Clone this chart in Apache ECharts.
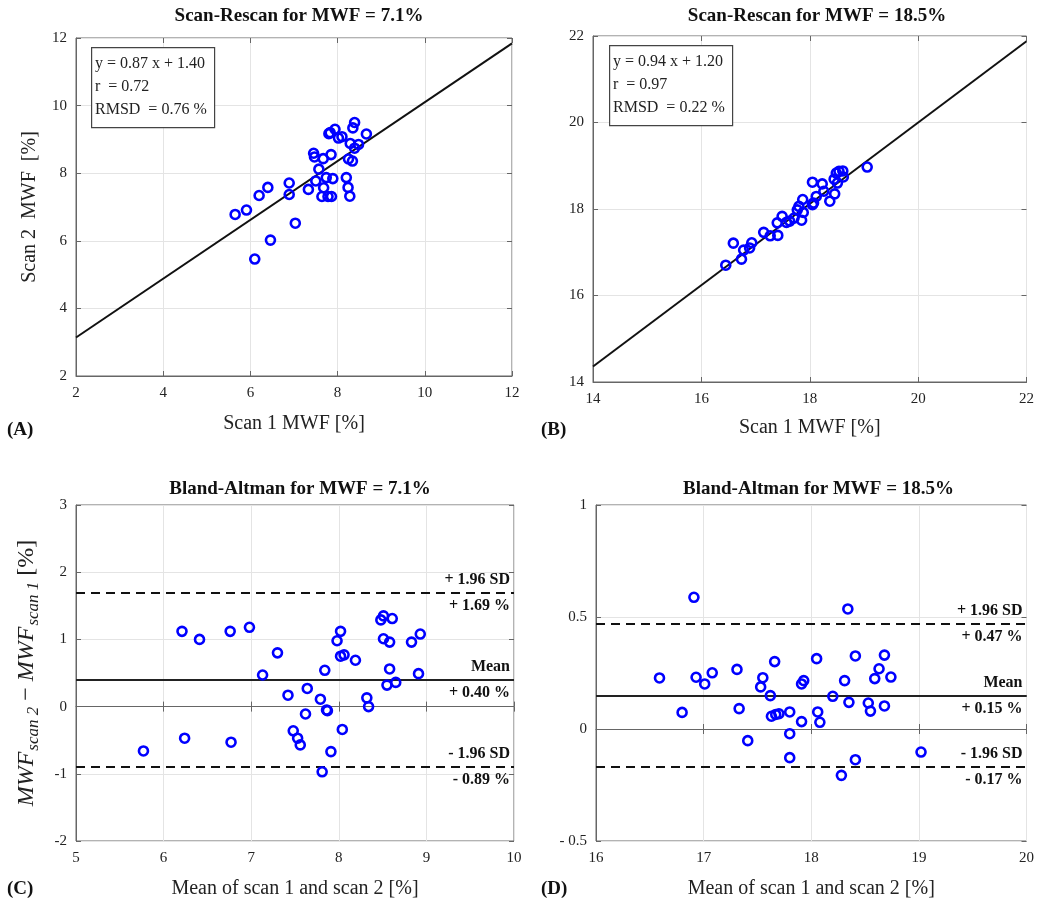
<!DOCTYPE html>
<html>
<head>
<meta charset="utf-8">
<script src="https://cdn.jsdelivr.net/npm/echarts@6/dist/echarts.min.js"></script>
<style>
  html, body { margin: 0; padding: 0; background: #fff; }
  #chart { width: 1037px; height: 903px; }
</style>
</head>
<body>
<div id="chart"></div>
<script>
(function () {
  // (A) scan-rescan, MWF = 7.1%
  const scan1Low = [5.65, 5.91, 6.10, 6.20, 6.40, 6.46, 6.89, 6.89, 7.03, 7.33, 7.45, 7.47, 7.50, 7.57, 7.67, 7.68, 7.64, 7.74, 7.78, 7.86, 7.80, 7.83, 7.85, 7.89, 7.94, 8.02, 8.10, 8.20, 8.24, 8.28, 8.25, 8.34, 8.29, 8.35, 8.39, 8.39, 8.48, 8.66];
  const scan2Low = [6.78, 6.91, 5.46, 7.34, 7.58, 6.02, 7.71, 7.37, 6.52, 7.52, 8.59, 8.48, 7.77, 8.12, 8.43, 7.57, 7.31, 7.87, 7.31, 7.31, 9.17, 9.20, 8.55, 7.84, 9.30, 9.04, 9.08, 7.87, 7.58, 7.32, 8.42, 8.36, 8.88, 9.34, 9.50, 8.74, 8.85, 9.16];
  const fitLow = { slope: 0.87, intercept: 1.40 };

  // (B) scan-rescan, MWF = 18.5%
  const scan1High = [16.45, 16.59, 16.74, 16.78, 16.89, 16.93, 17.15, 17.27, 17.41, 17.40, 17.49, 17.57, 17.63, 17.71, 17.77, 17.80, 17.85, 17.88, 17.87, 18.05, 18.07, 18.05, 18.12, 18.23, 18.26, 18.37, 18.46, 18.45, 18.49, 18.51, 18.54, 18.61, 18.62, 19.06];
  const scan2High = [16.70, 17.21, 16.84, 17.05, 17.10, 17.22, 17.46, 17.38, 17.39, 17.68, 17.83, 17.69, 17.72, 17.79, 17.98, 18.06, 17.74, 17.92, 18.22, 18.10, 18.14, 18.62, 18.29, 18.58, 18.41, 18.18, 18.35, 18.69, 18.83, 18.60, 18.87, 18.88, 18.74, 18.97];
  const fitHigh = { slope: 0.94, intercept: 1.20 };

  // (C) Bland-Altman, MWF = 7.1%
  const meanLow = [5.77, 6.21, 6.24, 6.41, 6.76, 6.77, 6.98, 7.13, 7.30, 7.42, 7.48, 7.53, 7.56, 7.62, 7.64, 7.79, 7.81, 7.84, 7.86, 7.87, 7.91, 7.98, 8.02, 8.02, 8.06, 8.04, 8.19, 8.32, 8.34, 8.48, 8.51, 8.61, 8.51, 8.58, 8.58, 8.55, 8.65, 8.83, 8.93, 8.91];
  const diffLow = [-0.66, 1.12, -0.47, 1.00, 1.12, -0.53, 1.18, 0.47, 0.80, 0.17, -0.36, -0.47, -0.57, -0.11, 0.27, 0.11, -0.97, 0.54, -0.05, -0.06, -0.67, 0.98, 1.12, 0.75, 0.77, -0.34, 0.69, 0.13, 0.00, 1.29, 1.35, 1.31, 1.01, 0.96, 0.56, 0.32, 0.36, 0.96, 1.08, 0.49];
  const limitsLow = { upper: 1.69, mean: 0.40, lower: -0.89 };

  // (D) Bland-Altman, MWF = 18.5%
  const meanHigh = [16.59, 16.80, 16.91, 16.93, 17.01, 17.08, 17.31, 17.33, 17.41, 17.53, 17.55, 17.62, 17.63, 17.66, 17.67, 17.70, 17.80, 17.80, 17.80, 17.91, 17.93, 17.91, 18.05, 18.06, 18.08, 18.20, 18.28, 18.31, 18.34, 18.35, 18.41, 18.41, 18.53, 18.55, 18.59, 18.63, 18.68, 18.68, 18.74, 19.02];
  const diffHigh = [0.228, 0.074, 0.588, 0.231, 0.201, 0.251, 0.266, 0.091, -0.052, 0.188, 0.229, 0.149, 0.057, 0.301, 0.065, 0.068, 0.076, -0.021, -0.128, 0.201, 0.216, 0.033, 0.314, 0.076, 0.030, 0.146, -0.207, 0.216, 0.536, 0.119, 0.326, -0.137, 0.116, 0.080, 0.225, 0.269, 0.103, 0.330, 0.232, -0.103];
  const limitsHigh = { upper: 0.47, mean: 0.15, lower: -0.17 };

  const panels = [
    { title: 'Scan-Rescan for MWF = 7.1%', titleTop: 2, x: [2, 12, 2], y: [2, 12, 2], grid: { left: 76, top: 38, width: 436, height: 338 } },
    { title: 'Scan-Rescan for MWF = 18.5%', titleTop: 2, x: [14, 22, 2], y: [14, 22, 2], grid: { left: 593, top: 36, width: 438, height: 346 } },
    { title: 'Bland-Altman for MWF = 7.1%', titleTop: 475, x: [5, 10, 1], y: [-2, 3, 1], grid: { left: 76, top: 505, width: 438, height: 336 } },
    { title: 'Bland-Altman for MWF = 18.5%', titleTop: 475, x: [16, 20, 1], y: [-0.5, 1, 0.5], grid: { left: 596, top: 505, width: 435, height: 336 } },
  ];

  const FONT = '"Liberation Serif", "DejaVu Serif", serif';
  const BOX = '#666';
  const chart = echarts.init(document.getElementById('chart'), null, { renderer: 'canvas' });

  const pairs = (xs, ys) => xs.map((x, i) => [x, ys[i]]);
  const negLabel = (v) => (v < 0 ? '- ' + Math.abs(v) : String(v));
  const two = (v) => v.toFixed(2);

  const grids = [];
  const xAxes = [];
  const yAxes = [];
  const titles = [];

  panels.forEach((p, i) => {
    grids.push(Object.assign({ show: true, borderColor: BOX, borderWidth: 1, backgroundColor: '#fff' }, p.grid));
    titles.push({
      text: p.title,
      left: p.grid.left + p.grid.width / 2,
      top: p.titleTop,
      textAlign: 'center',
      textStyle: { fontFamily: FONT, fontWeight: 'bold', fontSize: 19, color: '#111' },
    });

    const base = (range) => ({
      type: 'value',
      gridIndex: i,
      min: range[0],
      max: range[1],
      interval: range[2],
    });

    xAxes.push(Object.assign(base(p.x), {
      position: 'bottom',
      axisLine: { show: true, lineStyle: { color: BOX } },
      axisTick: { show: true, inside: true, length: 5, lineStyle: { color: BOX } },
      axisLabel: { fontFamily: FONT, fontSize: 15, color: '#222', margin: 10 },
      splitLine: { show: true, lineStyle: { color: '#e4e4e4' } },
      name: i < 2 ? 'Scan 1 MWF [%]' : 'Mean of scan 1 and scan 2 [%]',
      nameLocation: 'middle',
      nameGap: i === 1 ? 36 : 38,
      nameTextStyle: { fontFamily: FONT, fontSize: 20, color: '#222' },
    }));
    xAxes.push(Object.assign(base(p.x), {
      position: 'top',
      axisLine: { show: false },
      axisTick: { show: true, inside: true, length: 5, lineStyle: { color: BOX } },
      axisLabel: { show: false },
      splitLine: { show: false },
    }));

    const yMain = Object.assign(base(p.y), {
      position: 'left',
      axisLine: { show: true, lineStyle: { color: BOX } },
      axisTick: { show: true, inside: true, length: 5, lineStyle: { color: BOX } },
      axisLabel: { fontFamily: FONT, fontSize: 15, color: '#222', margin: 9, formatter: i === 3 ? negLabel : null },
      splitLine: { show: true, lineStyle: { color: '#e4e4e4' } },
    });
    if (i === 0) {
      Object.assign(yMain, {
        name: 'Scan 2  MWF  [%]',
        nameLocation: 'middle',
        nameGap: 36,
        nameTextStyle: { fontFamily: FONT, fontSize: 20, color: '#222' },
      });
    } else if (i === 2) {
      Object.assign(yMain, {
        name: '{i|MWF}{s|scan 2}{n| − }{i|MWF}{s|scan 1}{n| [%]}',
        nameLocation: 'middle',
        nameGap: 34,
        nameTextStyle: {
          fontFamily: FONT,
          color: '#222',
          rich: {
            i: { fontFamily: FONT, fontStyle: 'italic', fontSize: 24, color: '#222', lineHeight: 30, verticalAlign: 'middle' },
            s: { fontFamily: FONT, fontStyle: 'italic', fontSize: 17, color: '#222', lineHeight: 30, verticalAlign: 'bottom', padding: [0, 0, 0, 1] },
            n: { fontFamily: FONT, fontSize: 24, color: '#222', lineHeight: 30, verticalAlign: 'middle' },
          },
        },
      });
    }
    yAxes.push(yMain);
    yAxes.push(Object.assign(base(p.y), {
      position: 'right',
      axisLine: { show: false },
      axisTick: { show: true, inside: true, length: 5, lineStyle: { color: BOX } },
      axisLabel: { show: false },
      splitLine: { show: false },
    }));
  });

  const scatterStyle = {
    type: 'scatter',
    symbol: 'circle',
    symbolSize: 9,
    itemStyle: { color: 'rgba(0,0,0,0)', borderColor: '#0000ff', borderWidth: 2.6, opacity: 1 },
    silent: true,
    z: 5,
  };

  function fitSeries(i, fit, range) {
    return {
      type: 'line',
      xAxisIndex: i * 2,
      yAxisIndex: i * 2,
      data: [range[0], range[1]].map((x) => [x, fit.slope * x + fit.intercept]),
      showSymbol: false,
      lineStyle: { color: '#111', width: 2 },
      silent: true,
      z: 3,
    };
  }

  const lblTop = { fontFamily: FONT, fontWeight: 'bold', fontSize: 16, color: '#111', position: 'insideEndTop', distance: [4, 5] };
  const lblBot = Object.assign({}, lblTop, { position: 'insideEndBottom' });

  function limitLines(limits) {
    const dashed = { color: '#111', width: 2, type: [9, 6] };
    const solid = { color: '#222', width: 2, type: 'solid' };
    return {
      symbol: 'none',
      silent: true,
      animation: false,
      data: [
        { yAxis: limits.upper, lineStyle: dashed, label: Object.assign({ formatter: '+ 1.96 SD' }, lblTop) },
        { yAxis: limits.upper, lineStyle: dashed, label: Object.assign({ formatter: '+ ' + two(limits.upper) + ' %' }, lblBot) },
        { yAxis: limits.mean, lineStyle: solid, label: Object.assign({ formatter: 'Mean' }, lblTop) },
        { yAxis: limits.mean, lineStyle: solid, label: Object.assign({ formatter: '+ ' + two(limits.mean) + ' %' }, lblBot) },
        { yAxis: limits.lower, lineStyle: dashed, label: Object.assign({ formatter: '- 1.96 SD' }, lblTop) },
        { yAxis: limits.lower, lineStyle: dashed, label: Object.assign({ formatter: '- ' + two(Math.abs(limits.lower)) + ' %' }, lblBot) },
      ],
    };
  }

  const series = [
    fitSeries(0, fitLow, panels[0].x),
    Object.assign({}, scatterStyle, { xAxisIndex: 0, yAxisIndex: 0, data: pairs(scan1Low, scan2Low) }),
    fitSeries(1, fitHigh, panels[1].x),
    Object.assign({}, scatterStyle, { xAxisIndex: 2, yAxisIndex: 2, data: pairs(scan1High, scan2High) }),
    Object.assign({}, scatterStyle, { xAxisIndex: 4, yAxisIndex: 4, data: pairs(meanLow, diffLow), markLine: limitLines(limitsLow) }),
    Object.assign({}, scatterStyle, { xAxisIndex: 6, yAxisIndex: 6, data: pairs(meanHigh, diffHigh), markLine: limitLines(limitsHigh) }),
  ];

  function statBox(left, top, fit, r, rmsd) {
    return [
      {
        type: 'rect',
        left: left,
        top: top,
        z: 100,
        shape: { width: 123, height: 80 },
        style: { fill: '#fff', stroke: '#444', lineWidth: 1.2 },
      },
      {
        type: 'text',
        left: left + 4,
        top: top + 5,
        z: 101,
        style: {
          text: 'y = ' + two(fit.slope) + ' x + ' + two(fit.intercept) + '\nr  = ' + two(r) + '\nRMSD  = ' + two(rmsd) + ' %',
          font: '16px ' + FONT,
          fill: '#222',
          lineHeight: 23,
        },
      },
    ];
  }

  function panelLetter(text, left, top) {
    return {
      type: 'text',
      left: left,
      top: top,
      style: { text: text, font: 'bold 19px ' + FONT, fill: '#111' },
    };
  }

  chart.setOption({
    animation: false,
    title: titles,
    grid: grids,
    xAxis: xAxes,
    yAxis: yAxes,
    series: series,
    graphic: [].concat(
      statBox(91, 47, fitLow, 0.72, 0.76),
      statBox(609, 45, fitHigh, 0.97, 0.22),
      [
        panelLetter('(A)', 7, 421),
        panelLetter('(B)', 541, 421),
        panelLetter('(C)', 7, 880),
        panelLetter('(D)', 541, 880),
      ]
    ),
  });
})();
</script>
</body>
</html>
